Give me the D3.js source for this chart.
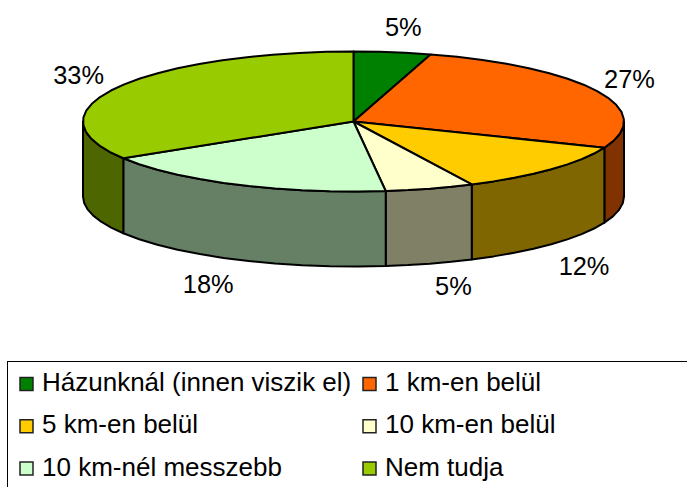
<!DOCTYPE html>
<html>
<head>
<meta charset="utf-8">
<script src="https://cdn.jsdelivr.net/npm/d3@7"></script>
<style>
	html, body { margin: 0; padding: 0; background: #fff; overflow: hidden; }
	text { font-family: "Liberation Sans", Arial, sans-serif; fill: #000; }
</style>
</head>
<body>
<div id="chart"></div>
<script>
var categories = ["Házunknál (innen viszik el)", "1 km-en belül", "5 km-en belül", "10 km-en belül", "10 km-nél messzebb", "Nem tudja"];
var values = [4.6, 26.5, 11.7, 5.3, 18.1, 33.8];
var valueLabels = ["5%", "27%", "12%", "5%", "18%", "33%"];
var topColors = ["#008000", "#FF6600", "#FFCC00", "#FFFFCC", "#CCFFCC", "#99CC00"];
var sideColors = ["#004000", "#803300", "#806600", "#808066", "#668066", "#4D6600"];

var width = 687,
	height = 487,
	depth = 75,
	fontSize = 25.4,
	legendFontSize = 26;

// label nudges away from the point on the enlarged ellipse
var labelNudge = [[7, -18], [8, -9], [13, 17], [16, 16], [-16, 18], [-15, -9]];

var svg = d3.select("#chart")
	.append("svg")
	.attr("width", width)
	.attr("height", height);

var xScale = d3.scaleLinear().domain([-1, 1]).range([83, 624]);
var yScale = d3.scaleLinear().domain([1, -1]).range([51.5, 191.5]);

var slices = d3.pie().sort(null)(values);

// coarse steps so the rim is a little faceted
function rim(a0, a1) {
	var n = Math.max(1, Math.ceil((a1 - a0) / (Math.PI / 30)));
	return d3.range(n + 1).map(function(i) {
		return a0 + (a1 - a0) * i / n;
	});
}

var line = d3.line()
	.x(function(d) { return d[0]; })
	.y(function(d) { return d[1]; });

function topPoint(a, k) {
	return [xScale(Math.sin(a) * k), yScale(Math.cos(a) * k)];
}

/*
	Side walls, only the front half of the disc shows
*/
var front0 = Math.PI / 2, front1 = Math.PI * 3 / 2;

slices.forEach(function(s, i) {
	var a0 = Math.max(s.startAngle, front0),
		a1 = Math.min(s.endAngle, front1);
	if (a1 <= a0) return;
	var upper = rim(a0, a1).map(function(a) { return topPoint(a, 1); });
	var lower = upper.map(function(p) { return [p[0], p[1] + depth]; }).reverse();
	svg.append("path")
		.attr("d", line(upper.concat(lower)) + "Z")
		.attr("fill", sideColors[i])
		.attr("stroke", "#000")
		.attr("stroke-width", 2)
		.attr("stroke-linejoin", "round");
});

/*
	Top of the disc
*/
svg.selectAll("path.top")
	.data(slices)
	.enter()
	.append("path")
	.attr("class", "top")
	.attr("d", function(d) {
		var pts = rim(d.startAngle, d.endAngle).map(function(a) { return topPoint(a, 1); });
		return line([[xScale(0), yScale(0)]].concat(pts)) + "Z";
	})
	.attr("fill", function(d, i) { return topColors[i]; })
	.attr("stroke", "#000")
	.attr("stroke-width", 2)
	.attr("stroke-linejoin", "round");

/*
	Percent labels
*/
svg.selectAll("text.pct")
	.data(slices)
	.enter()
	.append("text")
	.attr("class", "pct")
	.attr("text-anchor", "middle")
	.attr("dy", "0.35em")
	.attr("font-size", fontSize)
	.attr("x", function(d, i) {
		var mid = (d.startAngle + d.endAngle) / 2;
		return topPoint(mid, 1.1)[0] + labelNudge[i][0];
	})
	.attr("y", function(d, i) {
		var mid = (d.startAngle + d.endAngle) / 2;
		var isFront = mid > front0 && mid < front1;
		return topPoint(mid, 1.1)[1] + (isFront ? depth : 0) + labelNudge[i][1];
	})
	.text(function(d, i) { return valueLabels[i]; });

/*
	Legend, the box runs off the right and bottom of the page
*/
svg.append("rect")
	.attr("x", 7.5)
	.attr("y", 361.5)
	.attr("width", width)
	.attr("height", height)
	.attr("fill", "#fff")
	.attr("stroke", "#000")
	.attr("stroke-width", 1);

var legendCol = d3.scalePoint().domain([0, 1]).range([19, 362]);
var legendRow = d3.scalePoint().domain([0, 1, 2]).range([382, 466.5]);

var legend = svg.selectAll("g.legend")
	.data(categories)
	.enter()
	.append("g")
	.attr("class", "legend")
	.attr("transform", function(d, i) {
		return "translate(" + legendCol(i % 2) + "," + legendRow(Math.floor(i / 2)) + ")";
	});

legend.append("rect")
	.attr("x", 1)
	.attr("y", -4.5)
	.attr("width", 13)
	.attr("height", 13)
	.attr("fill", function(d, i) { return topColors[i]; })
	.attr("stroke", "#222")
	.attr("stroke-width", 1.5);

legend.append("text")
	.attr("x", 23)
	.attr("dy", "0.35em")
	.attr("font-size", legendFontSize)
	.text(function(d) { return d; });
</script>
</body>
</html>
